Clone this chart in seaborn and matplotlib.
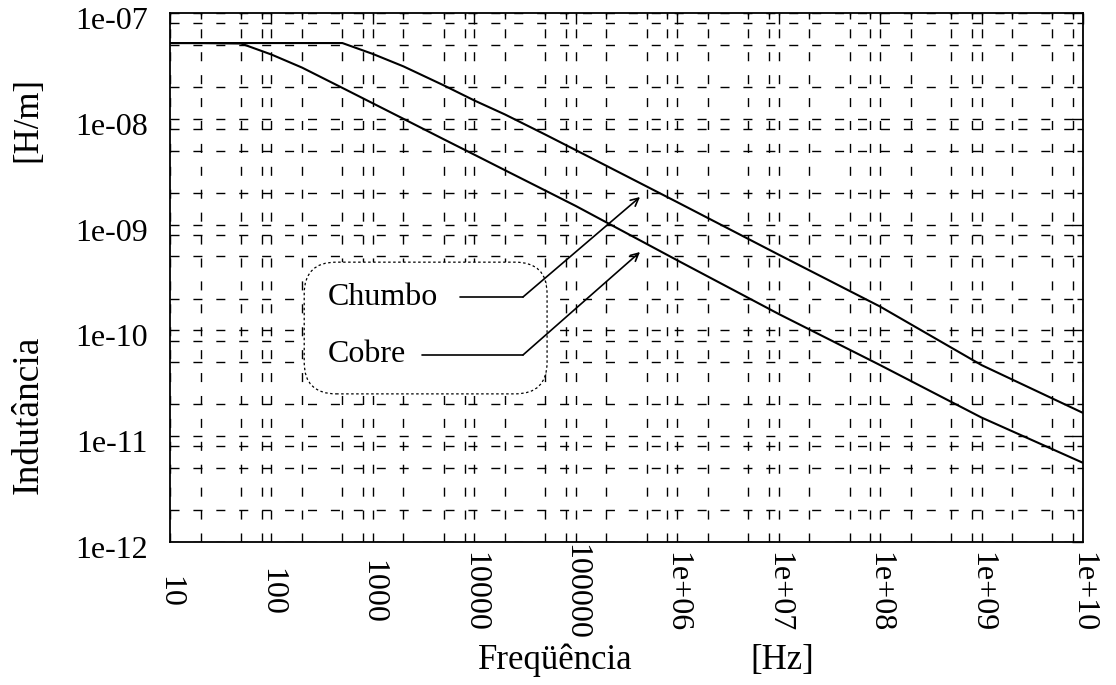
import numpy as np
import pandas as pd
import matplotlib
matplotlib.use("Agg")
import matplotlib.pyplot as plt
from matplotlib.ticker import FixedLocator, LogLocator, NullFormatter
from matplotlib.patches import FancyBboxPatch
from matplotlib.transforms import ScaledTranslation
import seaborn as sns

# Frequency samples [Hz]
freq = [10, 20, 50, 100, 200, 500, 1e3, 2e3, 5e3, 1e4, 2e4, 5e4,
        1e5, 1e6, 1e7, 1e8, 1e9, 1e10]

# Internal inductance per unit length [H/m]
chumbo = [5.2e-8, 5.2e-8, 5.2e-8, 5.2e-8, 5.2e-8, 5.2e-8, 4.1e-8, 3.13e-8,
          2.07e-8, 1.49e-8, 1.10e-8, 7.1e-9, 5.06e-9, 1.63e-9, 5.2e-10,
          1.68e-10, 4.7e-11, 1.66e-11]
cobre = [5.2e-8, 5.2e-8, 5.15e-8, 4.05e-8, 3.05e-8, 1.96e-8, 1.40e-8, 1.0e-8,
         6.4e-9, 4.58e-9, 3.27e-9, 2.10e-9, 1.50e-9, 4.6e-10, 1.43e-10,
         4.7e-11, 1.5e-11, 5.6e-12]

materials = ["Chumbo", "Cobre"]

xtick_vals = [1e1, 1e2, 1e3, 1e4, 1e5, 1e6, 1e7, 1e8, 1e9, 1e10]
xtick_labels = ["10", "100", "1000", "10000", "100000",
                "1e+06", "1e+07", "1e+08", "1e+09", "1e+10"]
ytick_vals = [1e-12, 1e-11, 1e-10, 1e-9, 1e-8, 1e-7]
ytick_labels = ["1e-12", "1e-11", "1e-10", "1e-09", "1e-08", "1e-07"]

df = pd.DataFrame({
    "freq": freq * 2,
    "L": chumbo + cobre,
    "material": [materials[0]] * len(freq) + [materials[1]] * len(freq),
})

sns.set_theme(style="white")
plt.rcParams["font.family"] = ["Liberation Serif", "DejaVu Serif"]
plt.rcParams["text.color"] = "black"
plt.rcParams["xtick.color"] = "black"
plt.rcParams["ytick.color"] = "black"
plt.rcParams["xtick.labelcolor"] = "black"
plt.rcParams["ytick.labelcolor"] = "black"

fig = plt.figure(figsize=(11.16, 6.85), dpi=100)
ax = fig.add_axes([170 / 1116, 1 - 542 / 685, 913 / 1116, 529 / 685])

sns.lineplot(data=df, x="freq", y="L", hue="material",
             palette=["black", "black"], linewidth=1.5, legend=False,
             ax=ax, zorder=5)

ax.set_xscale("log")
ax.set_yscale("log")
ax.set_xlim(1e1, 1e10)
ax.set_ylim(1e-12, 1e-7)

ax.xaxis.set_major_locator(FixedLocator(xtick_vals))
ax.yaxis.set_major_locator(FixedLocator(ytick_vals))
ax.xaxis.set_minor_locator(LogLocator(base=10, subs=(2, 5, 8), numticks=50))
ax.yaxis.set_minor_locator(LogLocator(base=10, subs=(2, 5, 8), numticks=50))
ax.xaxis.set_minor_formatter(NullFormatter())
ax.yaxis.set_minor_formatter(NullFormatter())

ax.tick_params(which="both", direction="in", top=True, right=True,
               color="black", width=1.0, labelcolor="black")
ax.tick_params(axis="x", which="major", length=8, pad=36)
ax.tick_params(axis="y", which="major", length=8, pad=16)
ax.tick_params(which="minor", length=4)

ax.set_xticklabels(xtick_labels, rotation=-90, fontsize=23, va="center",
                   ha="center", color="black")
ax.set_yticklabels(ytick_labels, fontsize=23, color="black")

# y tick labels sit slightly below their tick, as in gnuplot output
shift = ScaledTranslation(0, -5 / 100, fig.dpi_scale_trans)
for t in ax.yaxis.get_major_ticks():
    t.label1.set_transform(t.label1.get_transform() + shift)

for s in ax.spines.values():
    s.set_color("black")
    s.set_linewidth(1.3)

grid_style = dict(color="black", linewidth=1.0, linestyle=(0, (6.5, 10)))
ax.grid(True, which="major", **grid_style)
ax.grid(True, which="minor", **grid_style)
ax.set_axisbelow(True)

ax.set_xlabel("")
ax.set_ylabel("")

# Labelled call-out box
box = FancyBboxPatch((0.147, 0.280), 0.266, 0.249,
                     boxstyle="round,pad=0,rounding_size=0.035",
                     transform=ax.transAxes, facecolor="white",
                     edgecolor="black", linewidth=0.9,
                     linestyle=(0, (2, 2)), zorder=3, mutation_aspect=1.7)
ax.add_patch(box)

ax.text(0.173, 0.4631, "Chumbo", transform=ax.transAxes, fontsize=23,
        va="center", ha="left", zorder=4)
ax.text(0.173, 0.3535, "Cobre", transform=ax.transAxes, fontsize=23,
        va="center", ha="left", zorder=4)

ax.plot([0.3176, 0.3866], [0.4631, 0.4631], color="black", lw=1.2,
        transform=ax.transAxes, zorder=4)
ax.plot([0.2760, 0.3866], [0.3535, 0.3535], color="black", lw=1.2,
        transform=ax.transAxes, zorder=4)
ax.annotate("", xy=(0.5148, 0.6522), xytext=(0.3866, 0.4631),
            xycoords="axes fraction", textcoords="axes fraction",
            arrowprops=dict(arrowstyle="->", color="black", lw=1.2,
                            shrinkA=0, shrinkB=0, mutation_scale=14),
            zorder=4)
ax.annotate("", xy=(0.5148, 0.5482), xytext=(0.3866, 0.3535),
            xycoords="axes fraction", textcoords="axes fraction",
            arrowprops=dict(arrowstyle="->", color="black", lw=1.2,
                            shrinkA=0, shrinkB=0, mutation_scale=14),
            zorder=4)

fig.text(555 / 1116, 1 - 660 / 685, "Freqüência", fontsize=25,
         ha="center", va="center")
fig.text(782 / 1116, 1 - 660 / 685, "[Hz]", fontsize=25,
         ha="center", va="center")
fig.text(28 / 1116, 1 - 415 / 685, "Indutância", fontsize=27,
         ha="center", va="center", rotation=90)
fig.text(28 / 1116, 1 - 120 / 685, "[H/m]", fontsize=25,
         ha="center", va="center", rotation=90)

fig.savefig("out.png", dpi=100)
